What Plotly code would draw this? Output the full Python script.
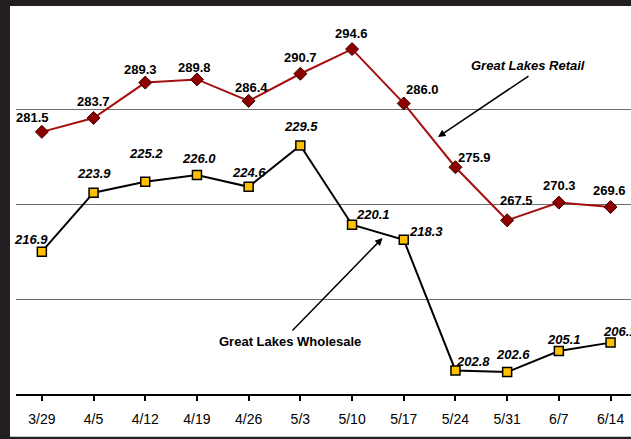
import plotly.graph_objects as go

weeks = ["3/29", "4/5", "4/12", "4/19", "4/26", "5/3", "5/10", "5/17", "5/24", "5/31", "6/7", "6/14"]
retail = [281.5, 283.7, 289.3, 289.8, 286.4, 290.7, 294.6, 286.0, 275.9, 267.5, 270.3, 269.6]
wholesale = [216.9, 223.9, 225.2, 226.0, 224.6, 229.5, 220.1, 218.3, 202.8, 202.6, 205.1, 206.1]

# label offsets in pixels (style only)
retail_off = [(-9, 14), (0, 16), (-5, 13), (-2, 12), (3, 13), (0, 16), (-1, 16),
              (19, 14), (19, 10), (9, 20), (1, 17), (-1, 17)]
whole_off = [(-11, 12), (0, 19), (1, 28), (2, 17), (0, 14), (1, 19), (21, 10),
             (22, 8), (18, 9), (6, 18), (5, 12), (9, 11)]

W, H = 631, 439
ML, MT, MB = 16, 15, 45
PW = W - ML
PH = H - MT - MB
CAT = 51.7

def px(x):
    return (x - ML) / PW

def py(y):
    return (H - MB - y) / PH

FONT = "Arial, Liberation Sans, sans-serif"

fig = go.Figure()
fig.add_trace(go.Scatter(
    x=list(range(len(weeks))), y=retail, mode="lines+markers",
    line=dict(color="#A50F0F", width=2),
    marker=dict(symbol="diamond", size=10, color="#8E0000",
                line=dict(color="#3a0000", width=1)),
    yaxis="y", showlegend=False, cliponaxis=False))
fig.add_trace(go.Scatter(
    x=list(range(len(weeks))), y=wholesale, mode="lines+markers",
    line=dict(color="black", width=2),
    marker=dict(symbol="square", size=9, color="#FFC000",
                line=dict(color="black", width=1.5)),
    yaxis="y2", showlegend=False, cliponaxis=False))

annotations = []
for i, v in enumerate(retail):
    dx, dy = retail_off[i]
    annotations.append(dict(x=i, y=v, xref="x", yref="y", text=f"{v:.1f}",
                            showarrow=False, xshift=dx, yshift=dy,
                            xanchor="center", yanchor="middle",
                            font=dict(family=FONT, size=13, color="black", weight="bold")))
for i, v in enumerate(wholesale):
    dx, dy = whole_off[i]
    annotations.append(dict(x=i, y=v, xref="x", yref="y2", text=f"{v:.1f}",
                            showarrow=False, xshift=dx, yshift=dy,
                            xanchor="center", yanchor="middle",
                            font=dict(family=FONT, size=13, color="black",
                                      weight="bold", style="italic")))

# series callouts
annotations.append(dict(x=px(528), y=py(65.7), xref="paper", yref="paper",
                        xanchor="center", yanchor="middle",
                        text="Great Lakes Retail", showarrow=False,
                        font=dict(family=FONT, size=13, color="black",
                                  weight="bold", style="italic")))
annotations.append(dict(x=px(438), y=py(137), xref="paper", yref="paper", text="",
                        showarrow=True, ax=92, ay=-62, arrowhead=2, arrowsize=1,
                        arrowwidth=1.5, arrowcolor="black", standoff=0))
annotations.append(dict(x=px(290), y=py(341), xref="paper", yref="paper",
                        xanchor="center", yanchor="middle",
                        text="Great Lakes Wholesale", showarrow=False,
                        font=dict(family=FONT, size=13, color="black", weight="bold")))
annotations.append(dict(x=px(382.5), y=py(238), xref="paper", yref="paper", text="",
                        showarrow=True, ax=-91.5, ay=94, arrowhead=2, arrowsize=1,
                        arrowwidth=1.5, arrowcolor="black", standoff=0))

dark = "#231f20"
shapes = [
    dict(type="rect", xref="paper", yref="paper", x0=px(-5), x1=px(10), y0=py(445), y1=py(-5),
         fillcolor=dark, line=dict(width=0), layer="above"),
    dict(type="rect", xref="paper", yref="paper", x0=px(-5), x1=px(640), y0=py(6), y1=py(-5),
         fillcolor=dark, line=dict(width=0), layer="above"),
    dict(type="rect", xref="paper", yref="paper", x0=px(-5), x1=px(640), y0=py(445), y1=py(436.7),
         fillcolor=dark, line=dict(width=0), layer="above"),
]

fig.update_layout(
    width=W, height=H,
    margin=dict(l=ML, r=0, t=MT, b=MB, pad=0),
    paper_bgcolor="white", plot_bgcolor="white",
    font=dict(family=FONT, color="black"),
    xaxis=dict(range=[-0.5, -0.5 + PW / CAT], tickmode="array",
               tickvals=list(range(len(weeks))), ticktext=weeks,
               showgrid=False, zeroline=False,
               showline=True, linecolor="black", linewidth=2,
               ticks="outside", ticklen=5, tickwidth=2, tickcolor="black",
               tickson="boundaries", ticklabelstandoff=6,
               tickfont=dict(family=FONT, size=14, color="black")),
    yaxis=dict(range=[240, 300], dtick=15, tick0=240, showgrid=True,
               gridcolor="#6e6e6e", gridwidth=1, showticklabels=False,
               zeroline=False, showline=False, ticks=""),
    yaxis2=dict(range=[200, 245], overlaying="y", showgrid=False,
                showticklabels=False, zeroline=False, showline=False, ticks=""),
    annotations=annotations, shapes=shapes,
)

fig.write_html("out.html")
